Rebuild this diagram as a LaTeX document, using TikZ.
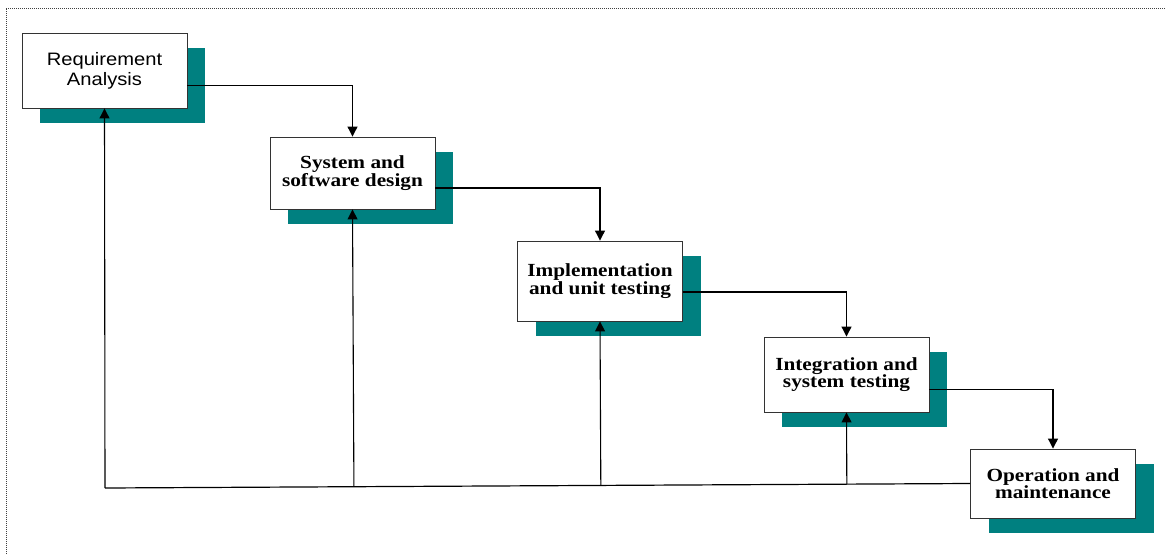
\documentclass[tikz,border=0pt]{standalone}
\usepackage{fontspec}
\setmainfont{Liberation Serif}[FakeStretch=1.15]
\setsansfont{Liberation Sans}[FakeStretch=1.12]
\usetikzlibrary{arrows.meta,shadows,calc}
\definecolor{shadowteal}{RGB}{0,128,128}
\begin{document}
\begin{tikzpicture}[x=1pt,y=-1pt,
  phase/.style={draw=black!80, line width=0.9pt, fill=white, align=center,
    minimum width=165pt, inner sep=0pt,
    drop shadow={shadow xshift=18pt, shadow yshift=-15pt, fill=shadowteal, opacity=1}},
  boldlabel/.style={font=\fontsize{18.5}{17.5}\selectfont\bfseries},
  sanslabel/.style={font=\fontsize{18}{20}\selectfont\sffamily},
  flow/.style={line width=1.1pt, -{Triangle[length=10pt,width=10pt]}},
  back/.style={line width=1.2pt}]
\useasboundingbox (0,0) rectangle (1166,554);
% dotted frame
\draw[black!75, line width=0.8pt, dash pattern=on 1pt off 1pt] (6,560) -- (6,8) -- (1172,8);

% phases
\node[phase, sanslabel, minimum height=75pt] (b1) at (104.5,70.5) {Requirement\\Analysis};
\node[phase, boldlabel, minimum height=72pt] (b2) at (352.5,173) {System and\\software design};
\node[phase, boldlabel, minimum height=80pt] (b3) at (600,281) {Implementation\\and unit testing};
\node[phase, boldlabel, minimum height=75pt] (b4) at (846.5,374.5) {Integration and\\system testing};
\node[phase, boldlabel, minimum height=69pt] (b5) at (1053,483.5) {Operation and\\maintenance};

% forward flow
\draw[flow] ([yshift=-15pt]b1.east) -| (b2.north);
\draw[flow] ([yshift=-15pt]b2.east) -| (b3.north);
\draw[flow] ([yshift=-11pt]b3.east) -| (b4.north);
\draw[flow] ([yshift=-15pt]b4.east) -| (b5.north);

% feedback paths
\coordinate (corner) at (105,488);
\draw[back] (b5.west) -- (corner);
\draw[flow] (corner) -- (b1.south);
\draw[flow] ($(corner)!(b2.south)!(b5.west)$) -- (b2.south);
\draw[flow] ($(corner)!(b3.south)!(b5.west)$) -- (b3.south);
\draw[flow] ($(corner)!(b4.south)!(b5.west)$) -- (b4.south);
\end{tikzpicture}
\end{document}
